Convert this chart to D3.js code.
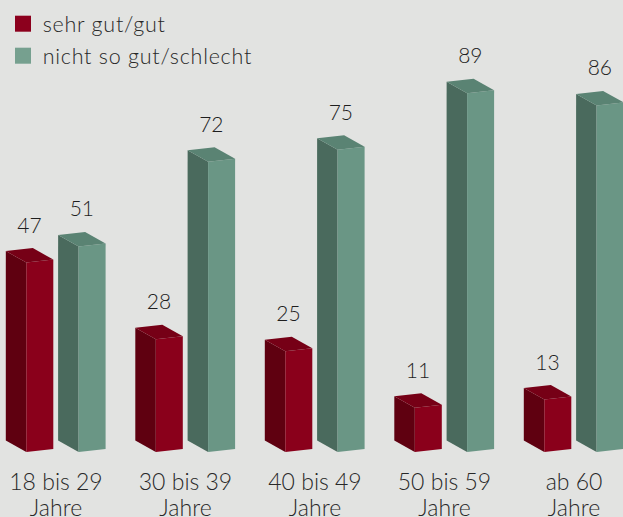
<!DOCTYPE html>
<html>
<head>
<meta charset="utf-8">
<style>
  body { margin: 0; background: #e2e3e1; }
  svg { display: block; font-family: Lato, "Open Sans", sans-serif; font-weight: 300; }
</style>
</head>
<body>
<svg width="623" height="517"></svg>
<script src="https://d3js.org/d3.v7.min.js"></script>
<script>

var categories = ["18 bis 29|Jahre", "30 bis 39|Jahre", "40 bis 49|Jahre", "50 bis 59|Jahre", "ab 60|Jahre"];
var seriesNames = ["sehr gut/gut", "nicht so gut/schlecht"];
var gutValues = [47, 28, 25, 11, 13];
var schlechtValues = [51, 72, 75, 89, 86];

var svg = d3.select("svg"),
    width = +svg.attr("width"),
    height = +svg.attr("height");

var base = 452;
var y = d3.scaleLinear().domain([0, 100]).range([base, 49]);
var x = d3.scalePoint().domain(categories).range([56, 574]);

// face colours: front, side, top
var palette = [
  { front: "#8a001b", side: "#5f0010", top: "#760016", legend: "#8c001d" },
  { front: "#6a9685", side: "#4a6a5d", top: "#5a8373", legend: "#76a08f" }
];
var offsets = [-29.7, 22.6];   // front-left corner relative to group centre
var fw = 27, dxs = -20.5, dys = -11.5, slope = -3;

var series = [gutValues, schlechtValues];

series.forEach(function(vals, s) {
  var g = svg.append("g").attr("class", "series-" + s);
  var bars = g.selectAll("g.bar")
    .data(vals.map(function(v, i) { return { v: v, cat: categories[i] }; }))
    .enter().append("g").attr("class", "bar");

  function fx(d) { return x(d.cat) + offsets[s]; }

  // side face
  bars.append("path")
    .attr("fill", palette[s].side)
    .attr("d", function(d) {
      var a = fx(d), t = y(d.v);
      return "M" + (a + dxs) + "," + (t + dys) + "L" + a + "," + t +
             "L" + a + "," + base + "L" + (a + dxs) + "," + (base + dys) + "Z";
    });

  // front face
  bars.append("path")
    .attr("fill", palette[s].front)
    .attr("d", function(d) {
      var a = fx(d), t = y(d.v);
      return "M" + a + "," + t + "L" + (a + fw) + "," + (t + slope) +
             "L" + (a + fw) + "," + (base + slope) + "L" + a + "," + base + "Z";
    });

  // top face
  bars.append("path")
    .attr("fill", palette[s].top)
    .attr("d", function(d) {
      var a = fx(d), t = y(d.v);
      return "M" + a + "," + t + "L" + (a + fw) + "," + (t + slope) +
             "L" + (a + fw + dxs) + "," + (t + slope + dys) +
             "L" + (a + dxs) + "," + (t + dys) + "Z";
    });

  // value labels
  bars.append("text")
    .attr("x", function(d) { return fx(d) + (fw + dxs) / 2; })
    .attr("y", function(d) { return y(d.v) - 30; })
    .attr("text-anchor", "middle")
    .attr("font-size", 21)
    .attr("fill", "#1e1e1e")
    .text(function(d) { return d.v; });
});

// category labels
var cats = svg.append("g").selectAll("text")
  .data(categories)
  .enter().append("text")
  .attr("text-anchor", "middle")
  .attr("font-size", 23)
  .attr("fill", "#282828");

cats.each(function(d) {
  var lines = d.split("|");
  var t = d3.select(this);
  lines.forEach(function(l, j) {
    t.append("tspan")
      .attr("x", x(d))
      .attr("y", 489.5 + j * 26.5)
      .text(l);
  });
});

// legend
var legend = svg.append("g").selectAll("g")
  .data(seriesNames)
  .enter().append("g")
  .attr("transform", function(d, i) { return "translate(15," + (15.7 + i * 32) + ")"; });

legend.append("rect")
  .attr("width", 16).attr("height", 16)
  .attr("fill", function(d, i) { return palette[i].legend; });

legend.append("text")
  .attr("x", 27.7)
  .attr("y", 16.5)
  .attr("font-size", 21.5)
  .attr("letter-spacing", 0.75)
  .attr("fill", "#282828")
  .text(function(d) { return d; });

</script>
</body>
</html>
